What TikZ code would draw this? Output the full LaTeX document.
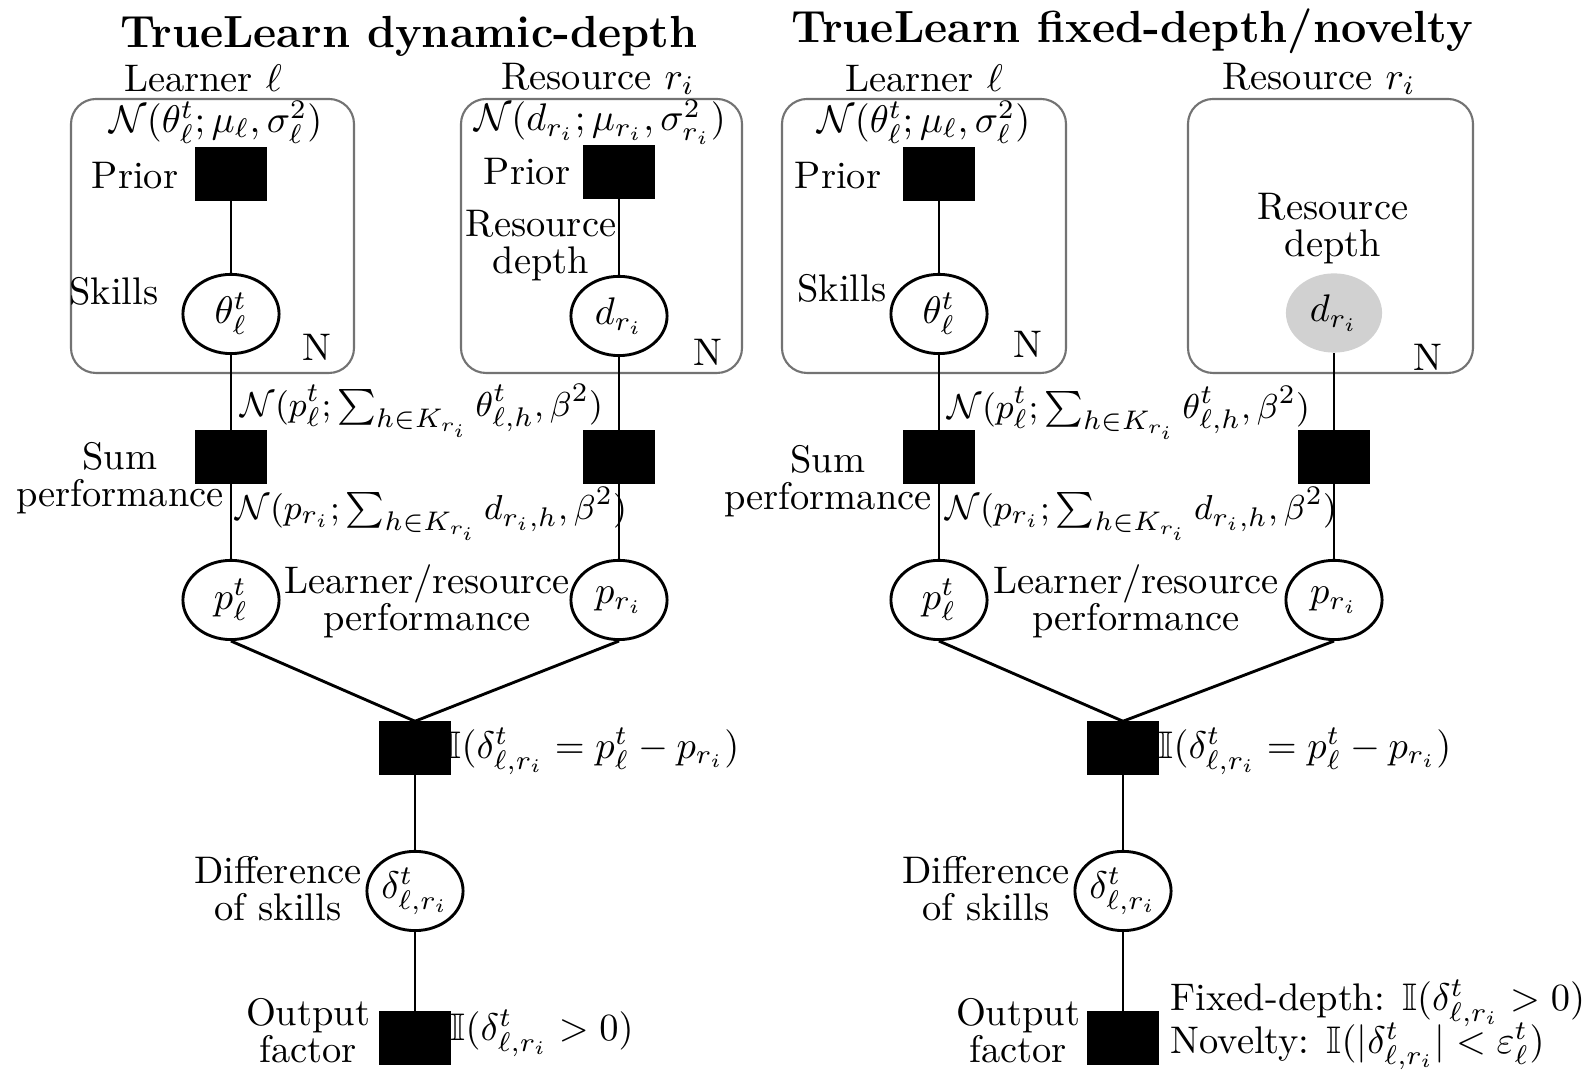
\documentclass[tikz,border=0pt]{standalone}
\usepackage{amsmath,amssymb}
\usetikzlibrary{shapes.geometric}
\definecolor{plategray}{gray}{0.45}
\definecolor{obsgray}{gray}{0.82}
\tikzset{
  factor/.style={rectangle,fill=black,draw=black,minimum width=18.2pt,minimum height=13.5pt,inner sep=0pt},
  var/.style={ellipse,draw=black,line width=0.75pt,fill=white,minimum width=25pt,minimum height=20.6pt,inner sep=0pt},
  obsvar/.style={ellipse,draw=none,fill=obsgray,minimum width=25pt,minimum height=20.6pt,inner sep=0pt},
  plate/.style={draw=plategray,line width=0.55pt,rounded corners=6.5pt},
  edge/.style={line width=0.75pt},
  lbl/.style={inner sep=0pt,align=center,font=\fontsize{10}{9.6}\selectfont},
  frm/.style={inner sep=0pt,font=\fontsize{9.3}{11}\selectfont},
  ttl/.style={inner sep=0pt,font=\fontsize{11.7}{14}\selectfont\bfseries}
}
\begin{document}
\begin{tikzpicture}[x=0.26pt,y=-0.26pt]
\useasboundingbox (0,0) rectangle (1588,1070);

% ---------------- TrueLearn dynamic-depth ----------------
\node[ttl] (titleA) at (409,36) {TrueLearn dynamic-depth};
\node[lbl] (learnA) at (203,78) {Learner $\ell$};
\node[lbl] (resA) at (598,79) {Resource $r_i$};
\draw[plate] (71,99) rectangle (354,373);
\draw[plate] (461,99) rectangle (742,373);
\node[lbl] (nthA) at (216,122) {$\mathcal{N}(\theta^t_\ell;\mu_\ell,\sigma^2_\ell)$};
\node[lbl] (ndA) at (600,122) {$\mathcal{N}(d_{r_i};\mu_{r_i},\sigma^2_{r_i})$};

\node[factor] (priorA) at (231,174) {};
\node[lbl] (priorAt) at (135,176) {Prior};
\node[factor] (priorB) at (619,172) {};
\node[lbl] (priorBt) at (527,172) {Prior};

\node[var] (thetaA) at (231,314) {$\theta^t_\ell$};
\node[lbl] (skillsA) at (114,291) {Skills};
\node[var] (depthA) at (619,316) {$d_{r_i}$};
\node[lbl] (depthAt) at (541,246) {Resource\\depth};
\node[lbl] (nA1) at (317,347) {N};
\node[lbl] (nA2) at (708,352) {N};

\node[factor] (sumA) at (231,457) {};
\node[factor] (sumB) at (619,457) {};
\node[lbl] (sumAt) at (120,478) {Sum\\performance};
\node[frm,anchor=west] (fA1) at (240,411) {$\mathcal{N}(p^t_\ell;\sum_{h\in K_{r_i}}\theta^t_{\ell,h},\beta^2)$};
\node[frm,anchor=west] (fA2) at (235,514) {$\mathcal{N}(p_{r_i};\sum_{h\in K_{r_i}}d_{r_i,h},\beta^2)$};

\node[var] (pA) at (231,600) {$p^t_\ell$};
\node[var] (pB) at (619,600) {$p_{r_i}$};
\node[lbl] (perfA) at (427,601) {Learner/resource\\performance};

\node[factor] (idA) at (415,748) {};
\node[lbl,anchor=west] (idAt) at (446,751) {$\mathbb{I}(\delta^t_{\ell,r_i}=p^t_\ell-p_{r_i})$};
\node[var] (deltaA) at (415,891) {$\delta^t_{\ell,r_i}$};
\node[lbl] (diffA) at (278,889) {Difference\\of skills};
\node[factor] (outA) at (415,1038) {};
\node[lbl] (outAt) at (308,1031) {Output\\factor};
\node[lbl,anchor=west] (outAl) at (450,1033) {$\mathbb{I}(\delta^t_{\ell,r_i}>0)$};

\draw[edge] (priorA) -- (thetaA);
\draw[edge] (thetaA) -- (sumA);
\draw[edge] (sumA) -- (pA);
\draw[edge] (priorB) -- (depthA);
\draw[edge] (depthA) -- (sumB);
\draw[edge] (sumB) -- (pB);
\draw[edge] (pA.south) -- (idA.north);
\draw[edge] (pB.south) -- (idA.north);
\draw[edge] (idA) -- (deltaA);
\draw[edge] (deltaA) -- (outA);

% ---------------- TrueLearn fixed-depth/novelty ----------------
\node[ttl] (titleB) at (1132,31) {TrueLearn fixed-depth/novelty};
\node[lbl] (learnB) at (924,78) {Learner $\ell$};
\node[lbl] (resB) at (1319,79) {Resource $r_i$};
\draw[plate] (782,99) rectangle (1066,373);
\draw[plate] (1188,99) rectangle (1473,373);
\node[lbl] (nthB) at (924,122) {$\mathcal{N}(\theta^t_\ell;\mu_\ell,\sigma^2_\ell)$};

\node[factor] (priorC) at (939,174) {};
\node[lbl] (priorCt) at (838,176) {Prior};
\node[var] (thetaB) at (939,314) {$\theta^t_\ell$};
\node[lbl] (skillsB) at (842,288) {Skills};
\node[obsvar] (depthB) at (1334,313) {$d_{r_i}$};
\node[lbl] (depthBt) at (1333,229) {Resource\\depth};
\node[lbl] (nB1) at (1028,344) {N};
\node[lbl] (nB2) at (1428,357) {N};

\node[factor] (sumC) at (939,457) {};
\node[factor] (sumD) at (1334,457) {};
\node[lbl] (sumCt) at (828,481) {Sum\\performance};
\node[frm,anchor=west] (fB1) at (947,413) {$\mathcal{N}(p^t_\ell;\sum_{h\in K_{r_i}}\theta^t_{\ell,h},\beta^2)$};
\node[frm,anchor=west] (fB2) at (945,514) {$\mathcal{N}(p_{r_i};\sum_{h\in K_{r_i}}d_{r_i,h},\beta^2)$};

\node[var] (pC) at (939,600) {$p^t_\ell$};
\node[var] (pD) at (1334,600) {$p_{r_i}$};
\node[lbl] (perfB) at (1136,601) {Learner/resource\\performance};

\node[factor] (idB) at (1123,748) {};
\node[lbl,anchor=west] (idBt) at (1158,751) {$\mathbb{I}(\delta^t_{\ell,r_i}=p^t_\ell-p_{r_i})$};
\node[var] (deltaB) at (1123,891) {$\delta^t_{\ell,r_i}$};
\node[lbl] (diffB) at (986,889) {Difference\\of skills};
\node[factor] (outB) at (1123,1038) {};
\node[lbl] (outBt) at (1018,1031) {Output\\factor};
\node[lbl,anchor=west] (outBl1) at (1170,1003) {Fixed-depth: $\mathbb{I}(\delta^t_{\ell,r_i}>0)$};
\node[lbl,anchor=west] (outBl2) at (1170,1046) {Novelty: $\mathbb{I}(|\delta^t_{\ell,r_i}|<\varepsilon^t_\ell)$};

\draw[edge] (priorC) -- (thetaB);
\draw[edge] (thetaB) -- (sumC);
\draw[edge] (sumC) -- (pC);
\draw[edge] (depthB) -- (sumD);
\draw[edge] (sumD) -- (pD);
\draw[edge] (pC.south) -- (idB.north);
\draw[edge] (pD.south) -- (idB.north);
\draw[edge] (idB) -- (deltaB);
\draw[edge] (deltaB) -- (outB);
\end{tikzpicture}
\end{document}
